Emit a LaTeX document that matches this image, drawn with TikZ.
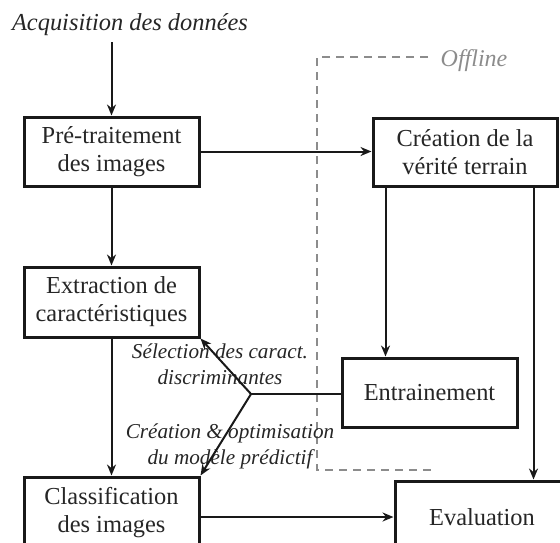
\documentclass[tikz,border=0pt]{standalone}
\usepackage{fontspec}
\setmainfont{Liberation Serif}
\usetikzlibrary{arrows.meta,calc}
\begin{document}
\begin{tikzpicture}[x=0.5pt,y=-0.5pt,
  box/.style={draw=black!90,line width=1.5pt,fill=white,align=center,inner sep=0pt,
    font=\fontsize{12.2}{14}\selectfont,text=black!85},
  arr/.style={draw=black!90,line width=1pt,-{Stealth[length=5.5pt,width=4.5pt]}},
  conn/.style={draw=black!90,line width=1pt},
  lab/.style={font=\fontsize{10.6}{12.8}\selectfont\itshape,align=center,text=black!85,inner sep=0pt},
  offl/.style={draw=black!45,dash pattern=on 4pt off 3pt,line width=0.9pt},
  offtext/.style={font=\fontsize{12}{14}\selectfont\itshape,text=black!45,inner sep=0pt}]
\useasboundingbox (0,0) rectangle (560,542);
\clip (0,0) rectangle (560,542);
% offline region
\coordinate (o1) at (428,57);
\coordinate (o2) at (317,57);
\coordinate (o3) at (317,470);
\coordinate (o4) at (431,470);
\draw[offl] (o1) -- (o2) -- (o3) -- (o4);
\node[offtext] (off) at (474,61) {Offline};
% nodes
\node[font=\fontsize{12.2}{14}\selectfont\itshape,text=black!85,inner sep=3pt] (acq) at (130,25) {Acquisition des données};
\node[box,minimum width=87.5pt,minimum height=34.5pt] (pre) at (111.5,151.5) {Pré-traitement\\des images};
\node[box,minimum width=92pt,minimum height=34pt] (cre) at (465,152) {Création de la\\vérité terrain};
\node[box,minimum width=87.5pt,minimum height=35pt] (ext) at (111.5,302) {Extraction de\\caractéristiques};
\node[box,minimum width=87.5pt,minimum height=34.5pt] (ent) at (429.5,392.5) {Entrainement};
\node[box,minimum width=87.5pt,minimum height=36pt] (cls) at (111.5,513) {Classification\\des images};
\node[box,minimum width=87pt,minimum height=36pt] (eva) at (482,517) {Evaluation};
% labels
\node[lab] (l1) at (220,364.5) {Sélection des caract.\\discriminantes};
\node[lab] (l2) at (230,446.5) {Création \& optimisation\\du modèle prédictif};
% connectors
\draw[arr] (acq.south -| pre.north) -- (pre.north);
\draw[arr] (pre.east) -- (pre.east -| cre.west);
\draw[arr] (pre.south) -- (ext.north);
\draw[arr] (ext.south) -- (cls.north);
\coordinate (c1) at ([xshift=7pt]cre.south west);
\coordinate (c2) at ([xshift=-12.5pt]cre.south east);
\draw[arr] (c1) -- (c1 |- ent.north);
\draw[arr] (c2) -- (c2 |- eva.north);
\draw[arr] (cls.east |- eva.west) -- (eva.west);
\coordinate (J) at (251,394);
\draw[conn] (ent.west |- J) -- (J);
\draw[arr] (J) -- (ext.south east);
\draw[arr] (J) -- (cls.north east);
\end{tikzpicture}
\end{document}
